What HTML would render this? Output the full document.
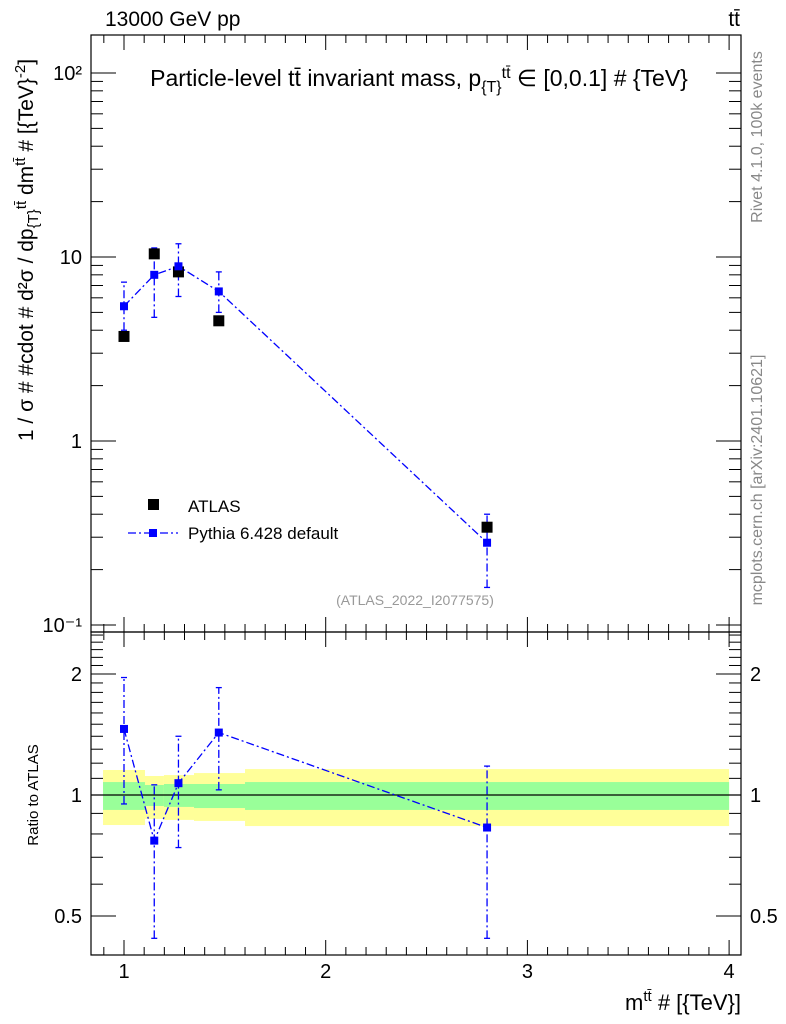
<!DOCTYPE html>
<html><head><meta charset="utf-8"><style>
html,body{margin:0;padding:0;background:#fff;}
svg{display:block;font-family:"Liberation Sans",sans-serif;}
</style></head><body>
<svg id="c" width="786" height="1024" viewBox="0 0 786 1024">
<text x="105" y="26" font-size="21">13000 GeV pp</text>
<text x="740" y="26" font-size="21" text-anchor="end">tt̄</text>
<text x="419" y="86" font-size="23" text-anchor="middle">Particle-level tt̄ invariant mass, p<tspan font-size="16" dy="6">{T}</tspan><tspan font-size="16" dy="-14">tt̄</tspan><tspan dy="8"> ∈ [0,0.1] # {TeV}</tspan></text>
<text transform="translate(33,250) rotate(-90)" font-size="21" text-anchor="middle">1 / σ # #cdot # d²σ / dp<tspan font-size="15" dy="5">{T}</tspan><tspan font-size="15" dy="-12">tt̄</tspan><tspan dy="7"> dm</tspan><tspan font-size="15" dy="-8">tt̄</tspan><tspan dy="8"> # [{TeV}</tspan><tspan font-size="15" dy="-8">-2</tspan><tspan dy="8">]</tspan></text>
<text transform="translate(38,795) rotate(-90)" font-size="15" text-anchor="middle">Ratio to ATLAS</text>
<text x="741" y="1010" font-size="22" text-anchor="end">m<tspan font-size="15" dy="-9">tt̄</tspan><tspan dy="9"> # [{TeV}]</tspan></text>
<text transform="translate(762,137) rotate(-90)" font-size="16" fill="#888" text-anchor="middle">Rivet 4.1.0,  100k events</text>
<text transform="translate(762,480) rotate(-90)" font-size="16" fill="#888" text-anchor="middle">mcplots.cern.ch [arXiv:2401.10621]</text>
<text x="415" y="605" font-size="14" fill="#999" text-anchor="middle">(ATLAS_2022_I2077575)</text>
<g id="g"></g>
</svg>
<script>
const xEdgesBand=[0.896,1.104,1.198,1.347,1.600,4.0];
const yellowHi=[1.154,1.115,1.121,1.134,1.16];
const yellowLo=[0.842,0.872,0.867,0.862,0.837];
const greenHi=[1.077,1.059,1.065,1.065,1.077];
const greenLo=[0.918,0.939,0.934,0.928,0.918];
const xVals=[1.0,1.15,1.27,1.47,2.8];
const atlasVals=[3.7,10.4,8.3,4.5,0.34];
const pyVals=[5.4,8.0,8.9,6.5,0.28];
const pyLo=[4.0,4.7,6.1,5.0,0.16];
const pyHi=[7.3,11.2,11.8,8.3,0.40];
const ratioVals=[1.46,0.77,1.07,1.43,0.83];
const ratioLo=[0.95,0.44,0.74,1.03,0.44];
const ratioHi=[1.96,1.06,1.40,1.85,1.18];
const xTicks=[1,2,3,4];
const yTicks=["10⁻¹","1","10","10²"];
const rTicks=[0.5,1,2];

const L=91,R=741,T=35,M=632,B=955;
const X=v=>124+(v-1)*201.7;
const Y=v=>441-Math.log10(v)*184;
const RY=v=>795-Math.log2(v)*121;
const g=document.getElementById('g');
const NS='http://www.w3.org/2000/svg';
function mk(t,a,p){const e=document.createElementNS(NS,t);for(const k in a)e.setAttribute(k,a[k]);(p||g).appendChild(e);return e;}

for(let i=0;i<5;i++){
 const x1=X(xEdgesBand[i]),x2=X(xEdgesBand[i+1]);
 const y=mk('rect',{x:x1,y:RY(yellowHi[i]),width:x2-x1,height:RY(yellowLo[i])-RY(yellowHi[i]),fill:'#ffff99'});
 
 
 const gr=mk('rect',{x:x1,y:RY(greenHi[i]),width:x2-x1,height:RY(greenLo[i])-RY(greenHi[i]),fill:'#99ff99'});
 
 
}
const one=mk('line',{x1:L,x2:R,y1:RY(1),y2:RY(1),stroke:'#000','stroke-width':1.2});



const f1=mk('rect',{x:L,y:T,width:R-L,height:M-T,fill:'none',stroke:'#000','stroke-width':1.2});


const f2=mk('rect',{x:L,y:M,width:R-L,height:B-M,fill:'none',stroke:'#000','stroke-width':1.2});



function tl(x1,y1,x2,y2){mk('line',{x1,y1,x2,y2,stroke:'#000','stroke-width':1});}
for(let v=0.9;v<=4.06;v+=0.1){
 const vv=Math.round(v*10)/10,x=X(vv),maj=Math.abs(vv-Math.round(vv))<1e-6,len=maj?15:8;
 tl(x,T,x,T+len);tl(x,M,x,M-len);tl(x,M,x,M+len);tl(x,B,x,B-len);
}
xTicks.forEach(v=>{const t=mk('text',{x:X(v),y:978,'font-size':20,'text-anchor':'middle'});t.textContent=v;
 });
for(let d=-2;d<=2;d++)for(let m=1;m<10;m++){const v=m*Math.pow(10,d),y=Y(v);if(y<T||y>M)continue;
 const len=m==1?25:12;tl(L,y,L+len,y);tl(R,y,R-len,y);}
yTicks.forEach((s,i)=>{const t=mk('text',{x:82,y:Y(Math.pow(10,i-1))+7,'font-size':20,'text-anchor':'end'});t.textContent=s;
 });
for(let v=0.4;v<=2.6;v+=0.1){const vv=Math.round(v*10)/10,y=RY(vv);if(y<M||y>B)continue;
 const maj=[0.5,1,2].includes(vv),len=maj?25:12;tl(L,y,L+len,y);tl(R,y,R-len,y);}
rTicks.forEach(v=>{[[82,'end'],[750,'start']].forEach(([x,a])=>{const t=mk('text',{x,y:RY(v)+7,'font-size':20,'text-anchor':a});t.textContent=v;
 });});

const dash='8,3,2,3';
const pl=mk('polyline',{points:xVals.map((x,i)=>X(x)+','+Y(pyVals[i])).join(' '),fill:'none',stroke:'#0000ff','stroke-width':1.3,'stroke-dasharray':dash});

function tl2(x,y){mk('line',{x1:x-3,x2:x+3,y1:y,y2:y,stroke:'#0000ff','stroke-width':1.3});}
xVals.forEach((x,i)=>{
 const cx=X(x);
 const e=mk('line',{x1:cx,x2:cx,y1:Y(pyLo[i]),y2:Y(pyHi[i]),stroke:'#0000ff','stroke-width':1.3,'stroke-dasharray':dash});
 
 tl2(cx,Y(pyLo[i]));tl2(cx,Y(pyHi[i]));
 const a=mk('rect',{x:cx-5.5,y:Y(atlasVals[i])-5.5,width:11,height:11,fill:'#000'});
 
 const p=mk('rect',{x:cx-4,y:Y(pyVals[i])-4,width:8,height:8,fill:'#0000ff'});
 
});
const rl=mk('polyline',{points:xVals.map((x,i)=>X(x)+','+RY(ratioVals[i])).join(' '),fill:'none',stroke:'#0000ff','stroke-width':1.3,'stroke-dasharray':dash});

xVals.forEach((x,i)=>{
 const cx=X(x);
 const e=mk('line',{x1:cx,x2:cx,y1:RY(ratioLo[i]),y2:RY(ratioHi[i]),stroke:'#0000ff','stroke-width':1.3,'stroke-dasharray':dash});
 
 tl2(cx,RY(ratioLo[i]));tl2(cx,RY(ratioHi[i]));
 const p=mk('rect',{x:cx-4,y:RY(ratioVals[i])-4,width:8,height:8,fill:'#0000ff'});
 
});
const lg=mk('rect',{x:148,y:499,width:11,height:11,fill:'#000'});

const lt=mk('text',{x:188,y:512,'font-size':17});lt.textContent='ATLAS';

const ll=mk('line',{x1:128,x2:178,y1:533,y2:533,stroke:'#0000ff','stroke-width':1.3,'stroke-dasharray':dash});

const lp=mk('rect',{x:149,y:529,width:8,height:8,fill:'#0000ff'});

const lt2=mk('text',{x:188,y:539,'font-size':17});lt2.textContent='Pythia 6.428 default';

</script>
</body></html>
